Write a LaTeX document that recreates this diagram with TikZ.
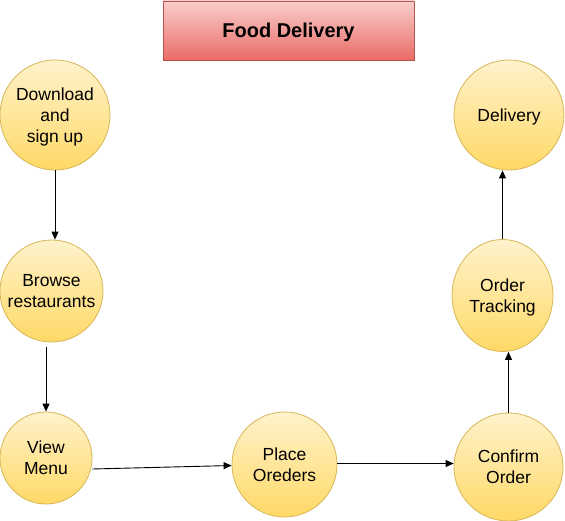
\documentclass[tikz,border=0pt]{standalone}
\usepackage{fontspec}
\setmainfont{Liberation Sans}
\usetikzlibrary{arrows.meta,shapes.geometric}
\definecolor{yfillT}{HTML}{FFF2CC}
\definecolor{yfillB}{HTML}{FFD966}
\definecolor{ydraw}{HTML}{D6B656}
\definecolor{rfillT}{HTML}{F8CECC}
\definecolor{rfillB}{HTML}{EA6B66}
\definecolor{rdraw}{HTML}{B85450}
\tikzset{
  stepnode/.style={ellipse, draw=ydraw, top color=yfillT, bottom color=yfillB, inner xsep=-8pt, inner ysep=0pt,
    align=center, font=\fontsize{17.5}{21}\selectfont, line width=0.8pt, text depth=0pt},
  titlebox/.style={rectangle, draw=rdraw, top color=rfillT, bottom color=rfillB, inner sep=0pt,
    font=\fontsize{20}{24}\selectfont\bfseries, line width=0.8pt, text depth=0pt},
  flow/.style={-{Triangle[length=8pt,width=7pt]}, line width=0.9pt, black}
}
\begin{document}
\begin{tikzpicture}[x=1pt,y=-1pt]
\useasboundingbox (0,0) rectangle (565,521);
\node[titlebox, minimum width=251pt, minimum height=59pt] (title) at (288.5,30.5) {Food Delivery};
\node[stepnode, minimum width=110pt, minimum height=110pt] (dl) at (55,115) {Download\\and\\sign up};
\node[stepnode, minimum width=103pt, minimum height=102pt] (br) at (51.5,291) {Browse\\restaurants};
\node[stepnode, minimum width=92pt, minimum height=92pt] (vm) at (46,458) {View\\Menu};
\node[stepnode, minimum width=105pt, minimum height=105pt] (po) at (284.5,464.5) {Place\\Oreders};
\node[stepnode, minimum width=109pt, minimum height=108pt] (co) at (508.5,467) {Confirm\\Order};
\node[stepnode, minimum width=101pt, minimum height=112pt] (ot) at (502.5,295.5) {Order\\Tracking};
\node[stepnode, minimum width=110pt, minimum height=110pt] (de) at (509,115) {Delivery};
\coordinate (brout) at (46,347);
\coordinate (poout) at ([yshift=1pt]po.east);
\draw[flow] (dl.south) -- (dl.south |- br.north);
\draw[flow] (brout) -- (vm.north);
\draw[flow] ([yshift=-11pt]vm.east) -- ([yshift=-1pt]po.west);
\draw[flow] (poout) -- (co.west |- poout);
\draw[flow] (co.north) -- (co.north |- ot.south);
\draw[flow] (ot.north) -- (ot.north |- de.south);
\end{tikzpicture}
\end{document}
